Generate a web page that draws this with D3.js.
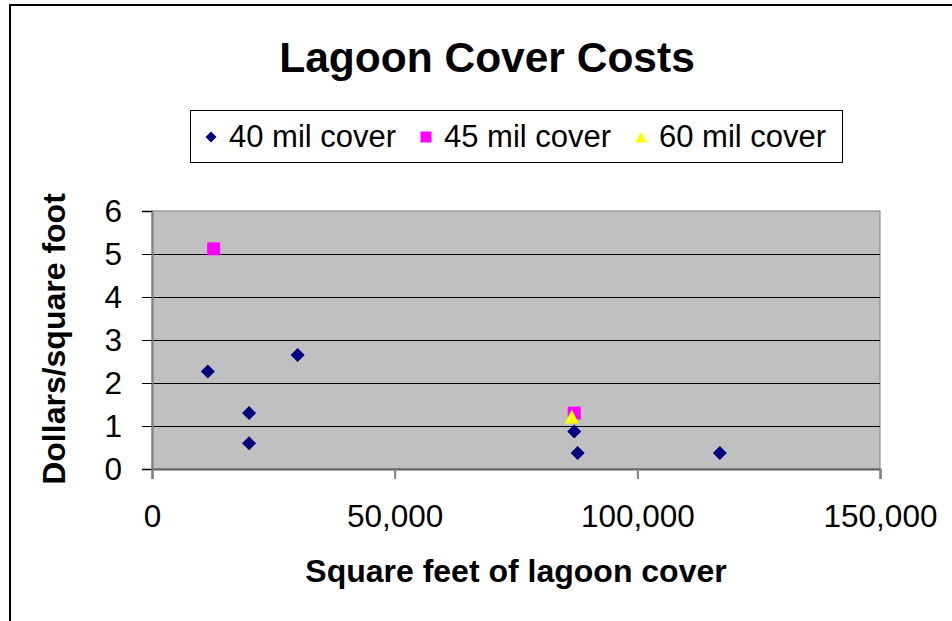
<!DOCTYPE html>
<html><head><meta charset="utf-8">
<script src="https://cdn.jsdelivr.net/npm/d3@7/dist/d3.min.js"></script>
<style>html,body{margin:0;padding:0;background:#fff;} svg{display:block;font-family:"Liberation Sans",Arial,sans-serif;}</style>
</head><body>
<svg id="chart" width="952" height="621"></svg>
<script>
const title = "Lagoon Cover Costs";
const xLabel = "Square feet of lagoon cover";
const yLabel = "Dollars/square foot";
const seriesNames = ["40 mil cover", "45 mil cover", "60 mil cover"];
const seriesColors = ["#000080", "#FF00FF", "#FFFF00"];
const seriesShapes = ["diamond", "square", "triangle"];
const x40 = [11500, 20000, 20000, 30000, 87000, 87700, 117000];
const y40 = [2.27, 1.30, 0.60, 2.65, 0.87, 0.37, 0.37];
const x45 = [12700, 87000];
const y45 = [5.12, 1.30];
const x60 = [86500];
const y60 = [1.22];
const xTicks = [0, 50000, 100000, 150000];
const yTicks = [0, 1, 2, 3, 4, 5, 6];

const svg = d3.select("#chart");
const W = 952, H = 621;
svg.append("rect").attr("width", W).attr("height", H).attr("fill", "#fff");
// outer chart border (extends past right/bottom edges)
svg.append("rect").attr("x", 10).attr("y", 5).attr("width", W + 20).attr("height", H + 20)
  .attr("fill", "none").attr("stroke", "#000").attr("stroke-width", 2);

const m = {left: 152, right: 880, top: 211, bottom: 469};
const x = d3.scaleLinear().domain([0, 150000]).range([m.left, m.right]);
const y = d3.scaleLinear().domain([0, 6]).range([m.bottom, m.top]);

// plot area
svg.append("rect").attr("x", m.left).attr("y", m.top).attr("width", m.right - m.left).attr("height", m.bottom - m.top)
  .attr("fill", "#C0C0C0").attr("stroke", "#808080").attr("stroke-width", 1);

// gridlines
svg.append("g").selectAll("line").data(yTicks.filter(d => d > 0 && d < 6)).join("line")
  .attr("x1", m.left).attr("x2", m.right).attr("y1", d => Math.round(y(d)) + 0.5).attr("y2", d => Math.round(y(d)) + 0.5)
  .attr("stroke", "#000").attr("stroke-width", 1);

// y axis
const yAxis = svg.append("g").attr("transform", `translate(${m.left},0)`)
  .call(d3.axisLeft(y).tickValues(yTicks).tickSize(10).tickPadding(20).tickFormat(d3.format("d")));
yAxis.select(".domain").attr("stroke", "#808080").attr("stroke-width", 2);
yAxis.selectAll(".tick line").attr("stroke", "#000");
yAxis.selectAll("text").attr("font-size", 31.5).attr("fill", "#000").attr("font-family", "Liberation Sans, Arial, sans-serif");

// x axis
const xAxis = svg.append("g").attr("transform", `translate(0,${m.bottom})`)
  .call(d3.axisBottom(x).tickValues(xTicks).tickSize(10).tickPadding(26).tickFormat(d3.format(",")));
xAxis.select(".domain").attr("stroke", "#606060").attr("stroke-width", 2);
xAxis.selectAll(".tick line").attr("stroke", "#808080").attr("stroke-width", 2);
xAxis.selectAll("text").attr("font-size", 31.5).attr("fill", "#000").attr("font-family", "Liberation Sans, Arial, sans-serif");

// markers
function shapePath(shape, s) {
  const h = s / 2;
  if (shape === "diamond") return `M0,${-h}L${h},0L0,${h}L${-h},0Z`;
  if (shape === "square") return `M${-h},${-h}H${h}V${h}H${-h}Z`;
  return `M0,${-h}L${h},${h}L${-h},${h}Z`;
}
const series = [
  {xs: x40, ys: y40, i: 0, size: 14},
  {xs: x45, ys: y45, i: 1, size: 13},
  {xs: x60, ys: y60, i: 2, size: 14}
];
series.forEach(s => {
  svg.append("g").selectAll("path").data(s.xs.map((v, k) => [v, s.ys[k]])).join("path")
    .attr("transform", d => `translate(${x(d[0])},${y(d[1])})`)
    .attr("d", shapePath(seriesShapes[s.i], s.size))
    .attr("fill", seriesColors[s.i]);
});

// title
svg.append("text").attr("x", 487).attr("y", 72).attr("text-anchor", "middle")
  .attr("font-size", 42.5).attr("font-weight", "bold").text(title);

// axis titles
svg.append("text").attr("x", 516).attr("y", 582).attr("text-anchor", "middle")
  .attr("font-size", 32).attr("font-weight", "bold").text(xLabel);
svg.append("text").attr("transform", "translate(65,339) rotate(-90)").attr("text-anchor", "middle")
  .attr("font-size", 32).attr("font-weight", "bold").text(yLabel);

// legend
svg.append("rect").attr("x", 190.5).attr("y", 110.5).attr("width", 652).attr("height", 52)
  .attr("fill", "#fff").attr("stroke", "#000").attr("stroke-width", 1);
const legendX = [211, 426, 641];
seriesNames.forEach((name, i) => {
  svg.append("path").attr("transform", `translate(${legendX[i]},137)`)
    .attr("d", shapePath(seriesShapes[i], 11)).attr("fill", seriesColors[i]);
  svg.append("text").attr("x", legendX[i] + 18).attr("y", 147)
    .attr("font-size", 31).text(name);
});
</script>
</body></html>
